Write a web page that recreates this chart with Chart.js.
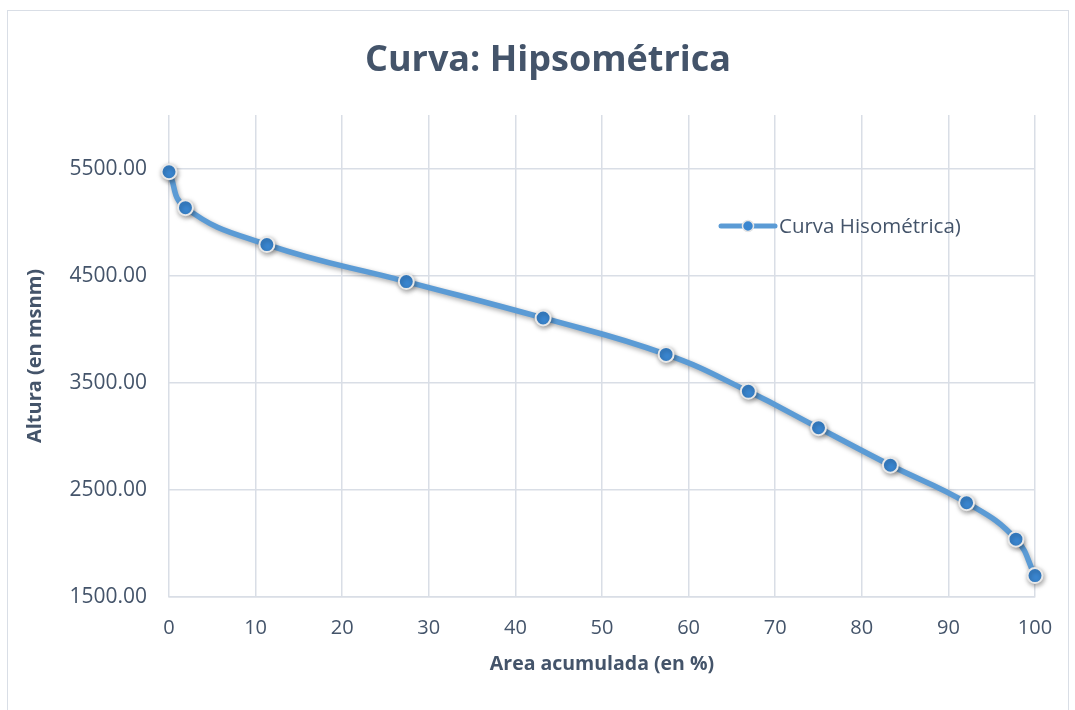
<!DOCTYPE html>
<html>
<head>
<meta charset="utf-8">
<script src="https://cdn.jsdelivr.net/npm/chart.js@4.4.1/dist/chart.umd.min.js"></script>
<style>
  html, body { margin: 0; padding: 0; background: #ffffff; }
  #wrap { position: relative; width: 1075px; height: 710px; }
  #frame { position: absolute; left: 7px; top: 10px; width: 1062px; height: 700px; border-left: 1px solid #d9dee6; border-top: 1px solid #d9dee6; border-right: 1px solid #d9dee6; box-sizing: border-box; pointer-events: none; }
  #title { position: absolute; left: 0; top: 36px; width: 1096px; text-align: center; font-family: "Open Sans", sans-serif; font-weight: bold; font-size: 36px; line-height: 44px; color: #44546a; }
  canvas { position: absolute; left: 0; top: 0; }
</style>
</head>
<body>
<div id="wrap">
  <canvas id="c" width="1075" height="710"></canvas>
  <div id="frame"></div>
  <div id="title">Curva: Hipsométrica</div>
</div>
<script>
// Área acumulada (%) y altura (msnm) de la curva hipsométrica
const areaAcumulada = [0, 1.9, 11.3, 27.4, 43.2, 57.4, 66.9, 75.0, 83.3, 92.1, 97.8, 100];
const altura = [5470, 5135, 4790, 4445, 4105, 3765, 3420, 3080, 2730, 2380, 2040, 1700];
const yTicks = [1500, 2500, 3500, 4500, 5500];
const xTicks = [0, 10, 20, 30, 40, 50, 60, 70, 80, 90, 100];

const textColor = '#44546a';
const gridColor = '#d9dee6';
const lineColor = '#5b9bd5';
const pointColor = '#3a86d0';
const fontFamily = '"Open Sans", sans-serif';

const points = areaAcumulada.map((x, i) => ({ x: x, y: altura[i] }));

// Soft drop shadow under the series line and markers
const shadowPlugin = {
  id: 'seriesShadow',
  beforeDatasetsDraw(chart) {
    const ctx = chart.ctx;
    ctx.save();
    ctx.shadowColor = 'rgba(0,0,0,0.35)';
    ctx.shadowBlur = 5;
    ctx.shadowOffsetX = 1;
    ctx.shadowOffsetY = 2;
  },
  afterDatasetsDraw(chart) {
    chart.ctx.restore();
  }
};

// Legend drawn inside the plot: line sample with a marker and the series name
const innerLegend = {
  id: 'innerLegend',
  afterDraw(chart) {
    const ctx = chart.ctx;
    const ds = chart.data.datasets[0];
    const x0 = 721, y0 = 226;
    ctx.save();
    ctx.strokeStyle = lineColor;
    ctx.lineWidth = 5;
    ctx.lineCap = 'round';
    ctx.beginPath();
    ctx.moveTo(x0, y0);
    ctx.lineTo(x0 + 54, y0);
    ctx.stroke();
    ctx.beginPath();
    ctx.arc(x0 + 27, y0, 5.5, 0, Math.PI * 2);
    ctx.fillStyle = pointColor;
    ctx.fill();
    ctx.lineWidth = 1.5;
    ctx.strokeStyle = '#e6e6e6';
    ctx.stroke();
    ctx.fillStyle = textColor;
    ctx.font = '20.5px ' + fontFamily;
    ctx.textBaseline = 'middle';
    ctx.textAlign = 'left';
    ctx.fillText(ds.label, x0 + 58, y0 + 1);
    ctx.restore();
  }
};

new Chart(document.getElementById('c'), {
  type: 'scatter',
  data: {
    datasets: [{
      label: 'Curva Hisométrica)',
      data: points,
      showLine: true,
      clip: false,
      tension: 0.45,
      borderColor: lineColor,
      borderWidth: 5.5,
      pointRadius: 7.5,
      pointBackgroundColor: pointColor,
      pointBorderColor: '#e8e8e8',
      pointBorderWidth: 2
    }]
  },
  options: {
    responsive: false,
    animation: false,
    events: [],
    layout: { padding: { left: 10, right: 40, top: 115, bottom: 24 } },
    plugins: {
      legend: { display: false },
      tooltip: { enabled: false },
      title: { display: false }
    },
    scales: {
      x: {
        type: 'linear',
        min: 0,
        max: 100,
        afterBuildTicks(scale) { scale.ticks = xTicks.map(v => ({ value: v })); },
        afterFit(scale) { scale.height = 710 - 597 - 24; },
        grid: { color: gridColor, lineWidth: 1.5, drawTicks: false },
        border: { color: gridColor, width: 1.5 },
        ticks: { color: textColor, padding: 19, font: { family: fontFamily, size: 20 }, maxRotation: 0 },
        title: {
          display: true,
          text: 'Area acumulada (en %)',
          color: textColor,
          font: { family: fontFamily, size: 19.5, weight: 'bold' },
          padding: { top: 10, bottom: 10 }
        }
      },
      y: {
        type: 'linear',
        min: 1500,
        max: 6000,
        afterBuildTicks(scale) { scale.ticks = yTicks.map(v => ({ value: v })); },
        afterFit(scale) { scale.width = 159; },
        grid: { color: gridColor, lineWidth: 1.5, drawTicks: false },
        border: { display: false },
        ticks: {
          color: textColor,
          padding: 22,
          font: { family: fontFamily, size: 21 },
          callback: v => v.toFixed(2)
        },
        title: {
          display: true,
          text: 'Altura (en msnm)',
          color: textColor,
          font: { family: fontFamily, size: 20, weight: 'bold' },
          padding: { top: 13, bottom: 10 }
        }
      }
    }
  },
  plugins: [shadowPlugin, innerLegend]
});
</script>
</body>
</html>
